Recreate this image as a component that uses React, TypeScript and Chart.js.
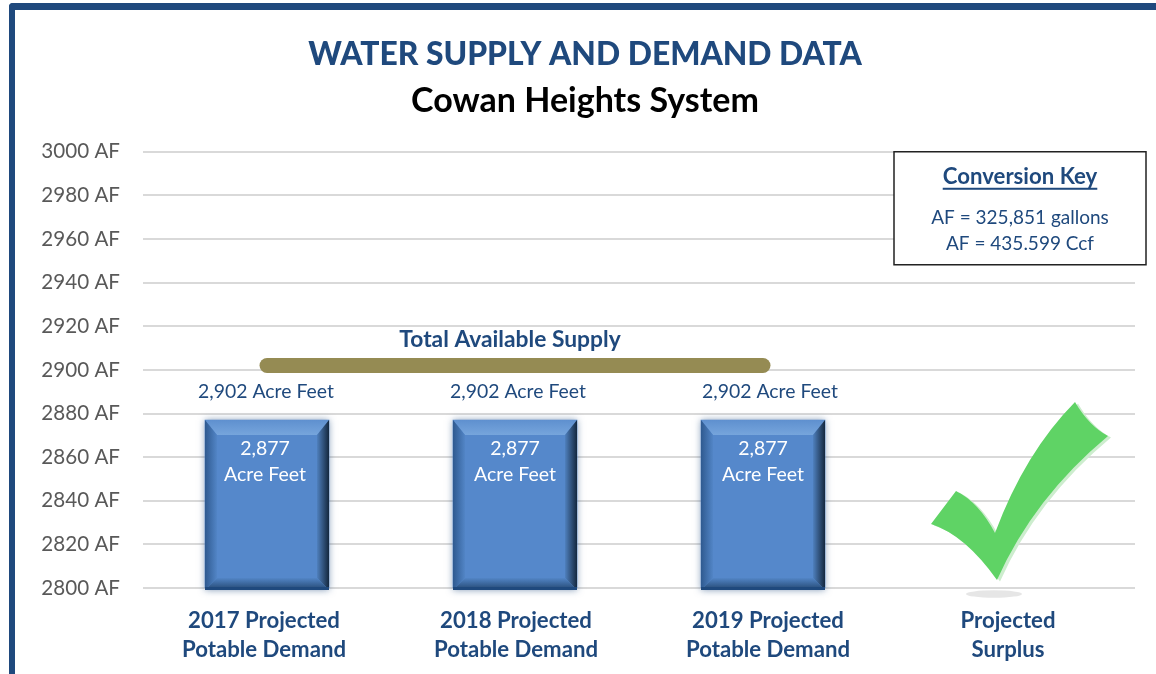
import React, { useEffect, useRef } from "react";
import { Chart, registerables } from "chart.js";

Chart.register(...registerables);

const NAVY = "#1F497D";
const FONT = "Lato";

const categories = [
  ["2017 Projected", "Potable Demand"],
  ["2018 Projected", "Potable Demand"],
  ["2019 Projected", "Potable Demand"],
  ["Projected", "Surplus"],
];
const demand = [2877, 2877, 2877, null];
const supply = [2902, 2902, 2902, null];
const supplyLabels = ["2,902 Acre Feet", "2,902 Acre Feet", "2,902 Acre Feet"];
const supplyLabelNudge = [-1, 3, 7];
const demandLabels = ["2,877", "2,877", "2,877"];
const demandLabelNudge = [-2, 0, 0];
const categoryLabelNudge = [-3, 1, 5, -3];
const conversionLines = ["AF = 325,851 gallons", "AF = 435.599 Ccf"];
const AXIS_MIN = 2800;

function text(ctx: any, s: string, x: number, y: number, font: string, color: string) {
  ctx.font = font;
  ctx.fillStyle = color;
  ctx.textAlign = "center";
  ctx.textBaseline = "middle";
  ctx.fillText(s, x, y);
}

function band(ctx: any, pts: number[][], g: [number, number, number, number], c0: string, c1: string) {
  const grad = ctx.createLinearGradient(g[0], g[1], g[2], g[3]);
  grad.addColorStop(0, c0);
  grad.addColorStop(1, c1);
  ctx.fillStyle = grad;
  ctx.beginPath();
  pts.forEach((p, i) => (i ? ctx.lineTo(p[0], p[1]) : ctx.moveTo(p[0], p[1])));
  ctx.closePath();
  ctx.fill();
}

const barGlow = {
  id: "barGlow",
  beforeDatasetsDraw(chart: any) {
    const { ctx, scales } = chart;
    const base = scales.y.getPixelForValue(AXIS_MIN);
    chart.getDatasetMeta(0).data.forEach((b: any, i: number) => {
      if (demand[i] == null) return;
      ctx.save();
      ctx.shadowColor = "rgba(31,73,125,0.55)";
      ctx.shadowBlur = 7;
      ctx.fillStyle = NAVY;
      ctx.fillRect(b.x - b.width / 2, b.y, b.width, base - b.y + 2);
      ctx.restore();
    });
  },
};

const overlay = {
  id: "overlay",
  afterDatasetsDraw(chart: any) {
    const { ctx, scales } = chart;
    const xs = scales.x;
    const ys = scales.y;
    const base = ys.getPixelForValue(AXIS_MIN);
    ctx.save();

    // bevels on the bars
    chart.getDatasetMeta(0).data.forEach((b: any, i: number) => {
      if (demand[i] == null) return;
      const l = b.x - b.width / 2;
      const r = b.x + b.width / 2;
      const t = b.y;
      const bt = base + 2;
      const e = 12;
      band(ctx, [[l, t], [r, t], [r - e, t + 15], [l + e, t + 15]], [0, t, 0, t + 15], "#5F90CF", "#76A5DC");
      band(ctx, [[l, t], [l + e, t + 15], [l + e, bt - 12], [l, bt]], [l, 0, l + e, 0], "#2F5A90", "#5285C6");
      band(ctx, [[r, t], [r - e, t + 15], [r - e, bt - 12], [r, bt]], [r, 0, r - e, 0], "#14283F", "#4F80BE");
      band(ctx, [[l, bt], [l + e, bt - 12], [r - e, bt - 12], [r, bt]], [0, bt - 12, 0, bt - 3], "#5285C6", "#2F5685");
      ctx.fillStyle = NAVY;
      ctx.fillRect(l, bt - 3, b.width, 3);

      text(ctx, demandLabels[i], b.x + demandLabelNudge[i], t + 29, `19.5px ${FONT}`, "#FFFFFF");
      text(ctx, "Acre Feet", b.x + demandLabelNudge[i], t + 55, `19.5px ${FONT}`, "#FFFFFF");
    });

    // supply captions
    const lineMeta = chart.getDatasetMeta(1).data;
    lineMeta.forEach((p: any, i: number) => {
      if (supply[i] == null) return;
      text(ctx, supplyLabels[i], p.x + supplyLabelNudge[i], p.y + 26, `19.4px ${FONT}`, NAVY);
    });
    text(ctx, "Total Available Supply", lineMeta[1].x - 5, lineMeta[1].y - 26, `bold 22.8px ${FONT}`, NAVY);

    // check mark, anchored to the last category on the baseline
    const ax = xs.getPixelForValue(3);
    const ay = base;
    const check = (dx: number, dy: number) => {
      const X = (v: number) => ax - 1011 + v + dx;
      const Y = (v: number) => ay - 588 + v + dy;
      ctx.beginPath();
      ctx.moveTo(X(931), Y(524));
      ctx.lineTo(X(956), Y(491));
      ctx.quadraticCurveTo(X(978.5), Y(502), X(995), Y(533));
      ctx.quadraticCurveTo(X(1025), Y(452.5), X(1075), Y(402));
      ctx.quadraticCurveTo(X(1089), Y(426), X(1108), Y(436));
      ctx.quadraticCurveTo(X(1033.5), Y(498), X(997), Y(580));
      ctx.quadraticCurveTo(X(965), Y(535), X(931), Y(524));
      ctx.closePath();
      ctx.fill();
    };
    ctx.fillStyle = "#E6E6E6";
    ctx.beginPath();
    ctx.ellipse(ax - 17, ay + 6, 28, 3.7, 0, 0, Math.PI * 2);
    ctx.fill();
    ctx.fillStyle = "#CDEDCE";
    check(3, 1.5);
    ctx.fillStyle = "#5FD365";
    check(0, 0);

    // conversion key
    const kx = xs.getPixelForValue(3) - 117;
    const ky = ys.top;
    const kw = 252;
    const kh = 113;
    const kc = kx + kw / 2;
    ctx.fillStyle = "#FFFFFF";
    ctx.fillRect(kx, ky, kw, kh);
    ctx.strokeStyle = "#222222";
    ctx.lineWidth = 1.5;
    ctx.strokeRect(kx, ky, kw, kh);
    text(ctx, "Conversion Key", kc, ky + 25, `bold 22.2px ${FONT}`, NAVY);
    const w = ctx.measureText("Conversion Key").width;
    ctx.fillStyle = NAVY;
    ctx.fillRect(kc - w / 2, ky + 36, w, 2);
    text(ctx, conversionLines[0], kc, ky + 66, `19px ${FONT}`, NAVY);
    text(ctx, conversionLines[1], kc, ky + 92, `19px ${FONT}`, NAVY);
    ctx.restore();
  },
};

export default function App() {
  const ref = useRef<HTMLCanvasElement>(null);
  useEffect(() => {
    const chart = new Chart(ref.current as any, {
      type: "bar",
      data: {
        labels: categories as any,
        datasets: [
          {
            type: "bar",
            label: "Projected Potable Demand",
            data: demand,
            backgroundColor: "#5588CB",
            borderWidth: 0,
            barThickness: 124,
            order: 2,
          },
          {
            type: "line",
            label: "Total Available Supply",
            data: supply,
            borderColor: "#958B53",
            borderWidth: 15,
            borderCapStyle: "round",
            pointRadius: 0,
            spanGaps: false,
            order: 1,
          },
        ] as any,
      },
      options: {
        responsive: false,
        animation: false,
        layout: { padding: { left: 35, right: 21, top: 0, bottom: 0 } },
        plugins: {
          legend: { display: false },
          tooltip: { enabled: false },
          title: {
            display: true,
            text: "WATER SUPPLY AND DEMAND DATA",
            color: NAVY,
            font: { family: FONT, size: 31.8, weight: "900", lineHeight: 1.2 },
            padding: { top: 36, bottom: 6 },
          },
          subtitle: {
            display: true,
            text: "Cowan Heights System",
            color: "#000000",
            font: { family: FONT, size: 34, weight: "bold", lineHeight: 1.2 },
            padding: { top: 0, bottom: 30.8 },
          },
        },
        scales: {
          x: {
            grid: { display: false },
            border: { display: false },
            ticks: {
              color: NAVY,
              font: { family: FONT, size: 22.2, weight: "bold", lineHeight: 1.31 },
              padding: 10,
              maxRotation: 0,
              autoSkip: false,
            },
            afterFit: (s: any) => {
              s.height = 86;
            },
            afterUpdate: (s: any) => {
              if (s.__nudged) return;
              s.__nudged = true;
              const orig = s.getPixelForTick;
              s.getPixelForTick = function (i: number) {
                return orig.call(this, i) + (categoryLabelNudge[i] || 0);
              };
            },
          },
          y: {
            min: AXIS_MIN,
            max: 3000,
            grid: { color: "#D9D9D9", lineWidth: 2, drawTicks: false },
            border: { display: false },
            ticks: {
              stepSize: 20,
              color: "#595959",
              font: { family: FONT, size: 20.6 },
              padding: 23,
              callback: (v: any) => `${v} AF`,
            },
            afterFit: (s: any) => {
              s.width = 108;
            },
          },
        },
      } as any,
      plugins: [barGlow, overlay],
    });
    return () => chart.destroy();
  }, []);

  return (
    <div style={{ position: "fixed", inset: 0, overflow: "hidden", background: "#FFFFFF" }}>
      <canvas ref={ref} width={1156} height={674} style={{ position: "absolute", left: 0, top: 0 }} />
      <div
        style={{
          position: "absolute",
          left: 9,
          top: 3,
          width: 1200,
          height: 720,
          borderLeft: "6px solid #1F497D",
          borderTop: "7px solid #1F497D",
          borderTopLeftRadius: 4,
          boxSizing: "border-box",
        }}
      />
    </div>
  );
}
